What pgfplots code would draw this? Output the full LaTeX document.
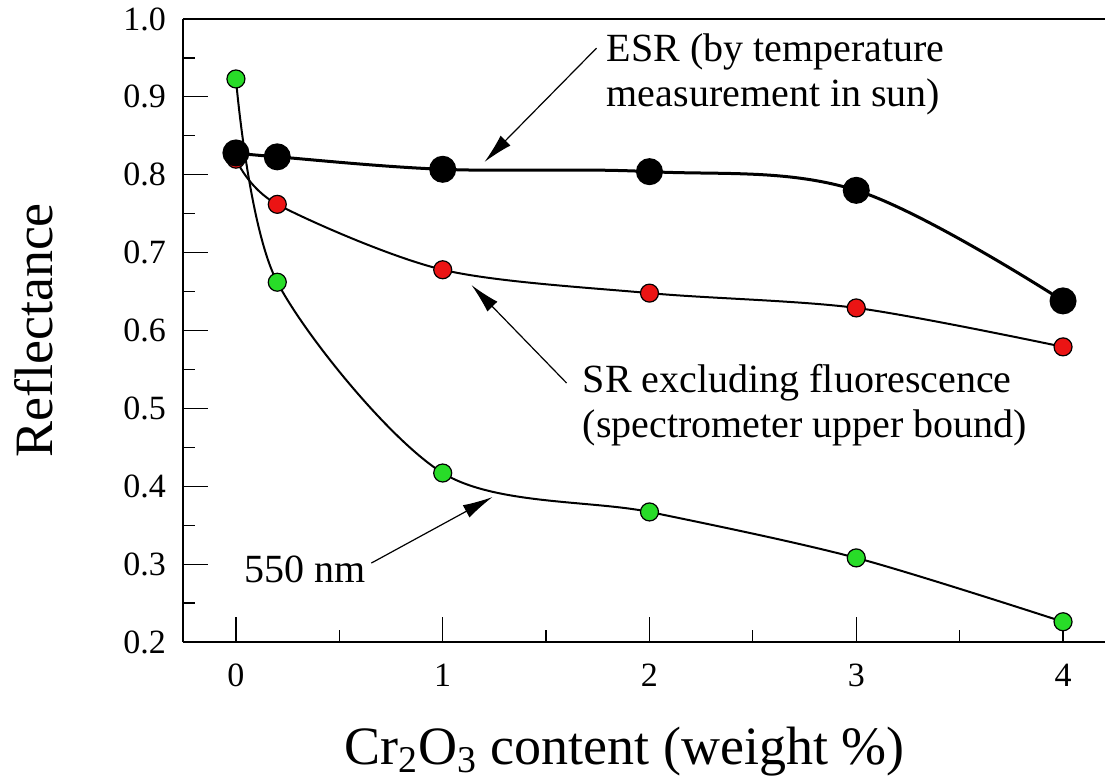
\documentclass[border=0pt]{standalone}
\usepackage{fontspec}
\setmainfont{Liberation Serif}
\usepackage{pgfplots}
\usepackage{pgfplotstable}
\pgfplotsset{compat=1.18}
\usetikzlibrary{arrows.meta,calc}
\definecolor{ptred}{RGB}{235,20,20}
\definecolor{ptgreen}{RGB}{40,220,40}

\pgfplotstableread{
x y
0 0.828
0.2 0.823
1 0.807
2 0.804
3 0.780
4 0.638
}\esr
\pgfplotstableread{
x y
0 0.820
0.2 0.762
1 0.678
2 0.648
3 0.629
4 0.579
}\sr
\pgfplotstableread{
x y
0 0.923
0.2 0.662
1 0.417
2 0.367
3 0.308
4 0.226
}\nm

\begin{document}
\begin{tikzpicture}
\begin{axis}[
  scale only axis, width=461pt, height=311.5pt,
  xmin=-0.256, xmax=4.203, ymin=0.2, ymax=1.0,
  axis lines*=left,
  axis line style={line width=0.6pt},
  xtick={0,1,2,3,4}, minor xtick={0.5,1.5,2.5,3.5},
  ytick={0.2,0.3,0.4,0.5,0.6,0.7,0.8,0.9,1.0},
  minor ytick={0.25,0.35,0.45,0.55,0.65,0.75,0.85,0.95},
  tick align=inside, major tick length=12.5pt, minor tick length=6pt,
  tick style={black, line width=0.6pt},
  /pgf/number format/assume math mode=true,
  y tick label style={/pgf/number format/fixed, /pgf/number format/fixed zerofill, /pgf/number format/precision=1, font=\fontsize{17}{20}\selectfont, xshift=-5pt},
  x tick label style={font=\fontsize{17}{20}\selectfont, yshift=-7.5pt},
  ylabel={Reflectance},
  ylabel style={font=\fontsize{27}{32}\selectfont, at={(axis description cs:-0.141,0.5)}, anchor=base},
  xlabel={Cr\textsubscript{2}O\textsubscript{3} content (weight \%)},
  xlabel style={font=\fontsize{27}{32}\selectfont, at={(axis description cs:0.479,-0.197)}, anchor=base},
  clip=false,
]
\draw[line width=0.6pt] (rel axis cs:0,1) -- (rel axis cs:1,1);
\coordinate (bl) at (rel axis cs:0,0);
\coordinate (tr) at (rel axis cs:1,1);

\addplot[black, line width=1pt, smooth, mark=*, mark size=4.5pt,
  mark options={fill=ptgreen, draw=black, line width=0.6pt}] table {\nm};
\addplot[black, line width=1pt, smooth, mark=*, mark size=4.5pt,
  mark options={fill=ptred, draw=black, line width=0.6pt}] table {\sr};
\addplot[black, line width=1.5pt, smooth, tension=0.6, mark=*, mark size=6pt,
  mark options={fill=black, draw=black}] table {\esr};

\node[anchor=base west, inner sep=0pt, font=\fontsize{20}{24}\selectfont] at (axis cs:1.792,0.945) {ESR (by temperature};
\node[anchor=base west, inner sep=0pt, font=\fontsize{20}{24}\selectfont] at (axis cs:1.792,0.887) {measurement in sun)};
\node[anchor=base west, inner sep=0pt, font=\fontsize{20}{24}\selectfont] at (axis cs:1.676,0.521) {SR excluding fluorescence};
\node[anchor=base west, inner sep=0pt, font=\fontsize{20}{24}\selectfont] at (axis cs:1.676,0.4632) {(spectrometer upper bound)};
\node[anchor=base west, inner sep=0pt, font=\fontsize{20}{24}\selectfont] at (axis cs:0.0411,0.277) {550 nm};

\draw[-{Latex[length=15pt,width=7pt]}, line width=0.6pt] (axis cs:1.744,0.9626) -- (axis cs:1.202,0.8164);
\draw[-{Latex[length=15pt,width=7pt]}, line width=0.6pt] (axis cs:1.599,0.5326) -- (axis cs:1.139,0.6584);
\draw[-{Latex[length=15pt,width=7pt]}, line width=0.6pt] (axis cs:0.655,0.3014) -- (axis cs:1.241,0.3862);
\end{axis}
\pgfresetboundingbox
\path ($(bl)+(-91.5pt,-70pt)$) rectangle ($(tr)+(0pt,9.5pt)$);
\end{tikzpicture}
\end{document}
